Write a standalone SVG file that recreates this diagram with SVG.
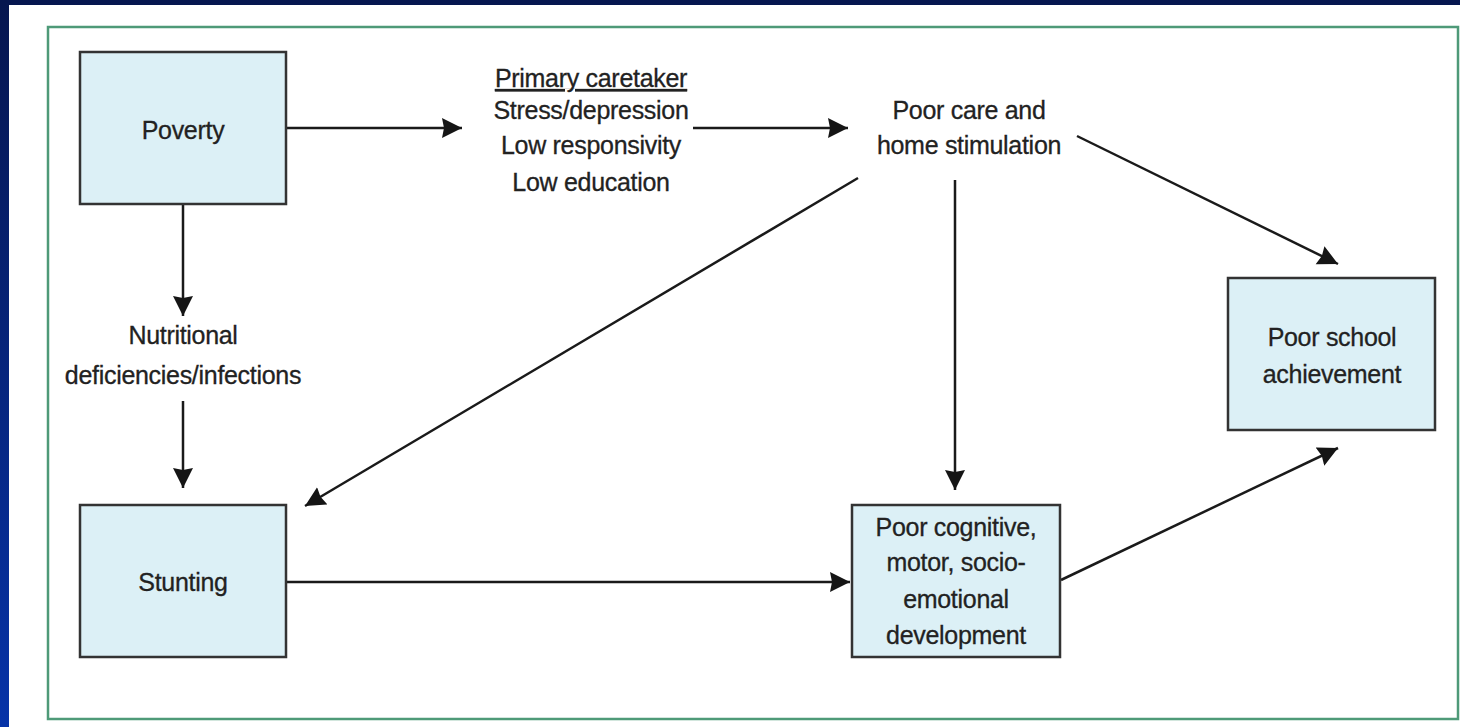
<svg xmlns="http://www.w3.org/2000/svg" width="1460" height="727" viewBox="0 0 1460 727">
<defs>
<linearGradient id="bg" x1="0" y1="0" x2="0" y2="1">
<stop offset="0" stop-color="#06164f"/>
<stop offset="1" stop-color="#0633a8"/>
</linearGradient>
<marker id="ah" markerUnits="userSpaceOnUse" markerWidth="24" markerHeight="22" refX="20" refY="10" orient="auto" viewBox="0 0 24 22">
<path d="M0,0 L20,10 L0,20 L2,10 Z" fill="#151515"/>
</marker>
<style>
.box{fill:#dcf0f6;stroke:#333;stroke-width:2.5}
.t{font-family:"Liberation Sans",Arial,sans-serif;font-size:25px;fill:#222;text-anchor:middle;letter-spacing:-0.3px;stroke:#222;stroke-width:0.3}
.c{stroke:#1a1a1a;stroke-width:2.5;fill:none;marker-end:url(#ah)}
</style>
</defs>
<rect x="0" y="0" width="1460" height="727" fill="url(#bg)"/>
<rect x="9" y="5" width="1451" height="722" fill="#ffffff"/>
<rect x="48" y="27" width="1410" height="692" fill="none" stroke="#4e9a78" stroke-width="2.5"/>

<g id="connectors">
<line class="c" x1="287" y1="128" x2="462" y2="128"/>
<line class="c" x1="693" y1="128" x2="848" y2="128"/>
<line class="c" x1="1077" y1="136" x2="1338" y2="264"/>
<line class="c" x1="858" y1="178" x2="305" y2="506"/>
<line class="c" x1="955" y1="180" x2="955" y2="490"/>
<line class="c" x1="183" y1="204" x2="183" y2="316"/>
<line class="c" x1="183" y1="401" x2="183" y2="488"/>
<line class="c" x1="287" y1="582" x2="850" y2="582"/>
<line class="c" x1="1061" y1="580" x2="1338" y2="448"/>
</g>

<g id="poverty">
<rect class="box" x="80" y="52" width="206" height="152"/>
<text class="t" x="183" y="139">Poverty</text>
</g>
<g id="caretaker">
<text class="t" x="591" y="87" text-decoration="underline">Primary caretaker</text>
<text class="t" x="591" y="119">Stress/depression</text>
<text class="t" x="591" y="154">Low responsivity</text>
<text class="t" x="591" y="191">Low education</text>
</g>
<g id="poorcare">
<text class="t" x="969" y="119">Poor care and</text>
<text class="t" x="969" y="154">home stimulation</text>
</g>
<g id="nutrition">
<text class="t" x="183" y="344">Nutritional</text>
<text class="t" x="183" y="384">deficiencies/infections</text>
</g>
<g id="stunting">
<rect class="box" x="80" y="505" width="206" height="152"/>
<text class="t" x="183" y="591">Stunting</text>
</g>
<g id="development">
<rect class="box" x="852" y="505" width="208" height="152"/>
<text class="t" x="956" y="536">Poor cognitive,</text>
<text class="t" x="956" y="571">motor, socio-</text>
<text class="t" x="956" y="608">emotional</text>
<text class="t" x="956" y="644">development</text>
</g>
<g id="school">
<rect class="box" x="1228" y="278" width="207" height="152"/>
<text class="t" x="1332" y="346">Poor school</text>
<text class="t" x="1332" y="383">achievement</text>
</g>
</svg>
